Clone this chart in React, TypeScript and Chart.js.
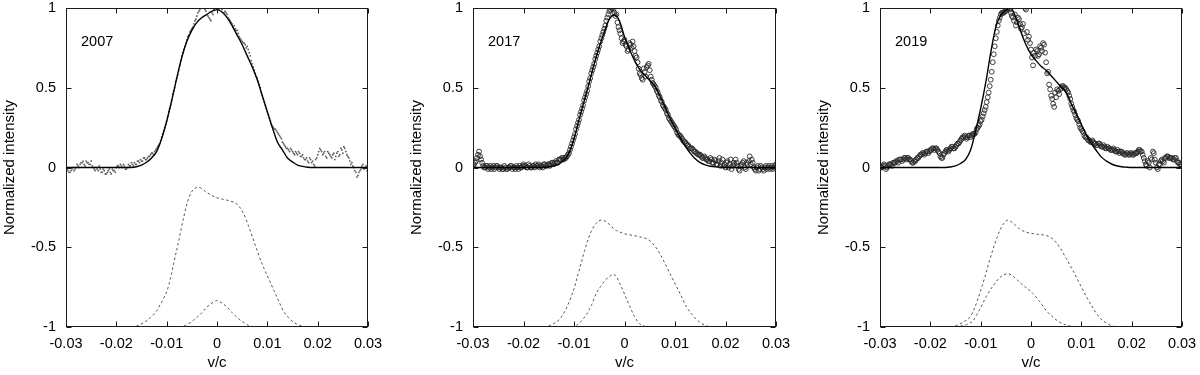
import React, { useEffect, useRef } from "react";
import { Chart, registerables } from "chart.js";

Chart.register(...registerables);

const FONT = "'Liberation Sans', Arial, Helvetica, sans-serif";

// ---- axes / labels ----
const X_TICKS = [-0.03, -0.02, -0.01, 0, 0.01, 0.02, 0.03];
const Y_TICKS = [-1, -0.5, 0, 0.5, 1];
const X_TITLE = "v/c";
const Y_TITLE = "Normalized intensity";
const YEARS = ["2007", "2017", "2019"];

// ---- observed profiles: grid A ----
const OBS_X = [
  -0.0300, -0.0296, -0.0292, -0.0288, -0.0284, -0.0280, -0.0276, -0.0272, -0.0268, -0.0264,
  -0.0260, -0.0256, -0.0252, -0.0248, -0.0244, -0.0240, -0.0236, -0.0232, -0.0228, -0.0224,
  -0.0220, -0.0216, -0.0212, -0.0208, -0.0204, -0.0200, -0.0196, -0.0192, -0.0188, -0.0184,
  -0.0180, -0.0176, -0.0172, -0.0168, -0.0164, -0.0160, -0.0156, -0.0152, -0.0148, -0.0144,
  -0.0140, -0.0136, -0.0132, -0.0128, -0.0124, -0.0120, -0.0116, -0.0112, -0.0108, -0.0104,
  -0.0100, -0.0096, -0.0092, -0.0088, -0.0084, -0.0080, -0.0076, -0.0072, -0.0068, -0.0064,
  -0.0060, -0.0056, -0.0052, -0.0048, -0.0044, -0.0040, -0.0036, -0.0032, -0.0028, -0.0024,
  -0.0020, -0.0016, -0.0012, -0.0008, -0.0004, 0.0000, 0.0004, 0.0008, 0.0012, 0.0016,
  0.0020, 0.0024, 0.0028, 0.0032, 0.0036, 0.0040, 0.0044, 0.0048, 0.0052, 0.0056,
  0.0060, 0.0064, 0.0068, 0.0072, 0.0076, 0.0080, 0.0084, 0.0088, 0.0092, 0.0096,
  0.0100, 0.0104, 0.0108, 0.0112, 0.0116, 0.0120, 0.0124, 0.0128, 0.0132, 0.0136,
  0.0140, 0.0144, 0.0148, 0.0152, 0.0156, 0.0160, 0.0164, 0.0168, 0.0172, 0.0176,
  0.0180, 0.0184, 0.0188, 0.0192, 0.0196, 0.0200, 0.0204, 0.0208, 0.0212, 0.0216,
  0.0220, 0.0224, 0.0228, 0.0232, 0.0236, 0.0240, 0.0244, 0.0248, 0.0252, 0.0256,
  0.0260, 0.0264, 0.0268, 0.0272, 0.0276, 0.0280, 0.0284, 0.0288, 0.0292, 0.0296,
  0.0300,
];

const OBS_2007 = [
  0.01, -0.02, -0.03, -0.01, -0.02, 0.00, 0.01, 0.02, 0.03, 0.02,
  0.04, 0.03, 0.02, 0.01, -0.01, 0.00, -0.02, -0.01, -0.03, -0.02,
  -0.04, -0.02, -0.03, -0.01, -0.02, 0.00, 0.01, 0.02, 0.00, 0.01,
  -0.01, 0.02, 0.01, 0.02, 0.03, 0.02, 0.04, 0.05, 0.04, 0.06,
  0.05, 0.07, 0.08, 0.09, 0.10, 0.12, 0.14, 0.17, 0.21, 0.25,
  0.29, 0.35, 0.39, 0.46, 0.50, 0.56, 0.61, 0.67, 0.72, 0.76,
  0.80, 0.83, 0.86, 0.88, 0.92, 0.95, 0.98, 1.00, 1.01, 0.99,
  1.00, 0.94, 0.92, 0.96, 1.00, 1.01, 0.99, 1.01, 1.00, 0.98,
  0.96, 0.93, 0.91, 0.88, 0.87, 0.86, 0.82, 0.80, 0.78, 0.77,
  0.76, 0.72, 0.67, 0.63, 0.59, 0.56, 0.52, 0.47, 0.43, 0.39,
  0.35, 0.31, 0.27, 0.25, 0.24, 0.22, 0.20, 0.18, 0.15, 0.13,
  0.12, 0.10, 0.11, 0.09, 0.10, 0.08, 0.09, 0.07, 0.06, 0.05,
  0.04, 0.06, 0.03, 0.02, 0.05, 0.08, 0.12, 0.10, 0.09, 0.07,
  0.10, 0.08, 0.06, 0.09, 0.07, 0.10, 0.08, 0.11, 0.13, 0.10,
  0.07, 0.04, 0.03, 0.00, -0.03, -0.05, -0.02, 0.01, -0.01, 0.01,
  0.00,
];

const OBS_2017 = [
  0.01, 0.03, 0.06, 0.10, 0.05, 0.01, 0.00, 0.01, 0.00, -0.01,
  0.01, 0.00, 0.01, -0.01, 0.00, -0.01, 0.00, -0.01, 0.00, 0.01,
  0.00, -0.01, 0.00, 0.01, 0.00, 0.02, 0.01, 0.00, 0.01, 0.00,
  0.01, 0.02, 0.01, 0.00, 0.01, 0.02, 0.01, 0.02, 0.01, 0.03,
  0.02, 0.04, 0.03, 0.05, 0.06, 0.05, 0.06, 0.08, 0.11, 0.15,
  0.19, 0.24, 0.28, 0.33, 0.37, 0.42, 0.46, 0.51, 0.56, 0.61,
  0.65, 0.70, 0.74, 0.79, 0.83, 0.87, 0.92, 0.96, 0.99, 1.00,
  0.97, 0.96, 0.88, 0.84, 0.78, 0.80, 0.76, 0.74, 0.77, 0.79,
  0.73, 0.69, 0.62, 0.58, 0.55, 0.60, 0.63, 0.65, 0.57, 0.53,
  0.51, 0.48, 0.45, 0.42, 0.39, 0.37, 0.34, 0.31, 0.29, 0.27,
  0.25, 0.22, 0.20, 0.19, 0.17, 0.16, 0.14, 0.13, 0.12, 0.11,
  0.10, 0.09, 0.08, 0.07, 0.06, 0.06, 0.05, 0.04, 0.05, 0.03,
  0.04, 0.02, 0.06, 0.03, 0.01, 0.00, 0.04, 0.02, -0.01, 0.03,
  0.05, 0.01, -0.02, 0.02, 0.04, -0.01, 0.02, 0.07, 0.05, 0.00,
  -0.02, 0.01, -0.01, 0.00, -0.02, 0.01, 0.00, -0.01, 0.01, 0.00,
  0.02,
];

const OBS_2019 = [
  0.01, 0.00, 0.02, -0.01, 0.01, 0.02, 0.01, 0.03, 0.04, 0.03,
  0.05, 0.04, 0.06, 0.05, 0.06, 0.05, 0.03, 0.04, 0.05, 0.06,
  0.08, 0.09, 0.08, 0.10, 0.09, 0.11, 0.12, 0.11, 0.12, 0.10,
  0.07, 0.06, 0.09, 0.11, 0.10, 0.12, 0.13, 0.12, 0.14, 0.15,
  0.17, 0.19, 0.20, 0.18, 0.20, 0.19, 0.21, 0.21, 0.24, 0.26,
  0.29, 0.32, 0.36, 0.41, 0.47, 0.55, 0.66, 0.76, 0.85, 0.92,
  0.96, 0.97, 0.98, 0.99, 1.00, 0.97, 0.94, 0.96, 0.91, 0.93,
  0.87, 0.90, 1.00, 0.85, 0.82, 0.74, 0.64, 0.70, 0.73, 0.71,
  0.75, 0.78, 0.72, 0.59, 0.52, 0.45, 0.40, 0.47, 0.49, 0.46,
  0.50, 0.51, 0.50, 0.48, 0.45, 0.40, 0.36, 0.33, 0.30, 0.27,
  0.24, 0.22, 0.19, 0.18, 0.17, 0.16, 0.16, 0.15, 0.14, 0.15,
  0.13, 0.14, 0.12, 0.13, 0.12, 0.11, 0.12, 0.10, 0.11, 0.09,
  0.10, 0.09, 0.08, 0.09, 0.08, 0.09, 0.08, 0.09, 0.10, 0.11,
  0.10, 0.06, 0.02, 0.04, 0.00, 0.05, 0.09, 0.03, -0.01, 0.02,
  0.05, 0.03, 0.06, 0.07, 0.06, 0.06, 0.05, 0.06, 0.03, 0.02,
  0.01,
];

// ---- observed profiles: grid B (interleaved samples) ----
const OBS_X_B = [
  -0.0298, -0.0294, -0.0290, -0.0286, -0.0282, -0.0278, -0.0274, -0.0270, -0.0266, -0.0262,
  -0.0258, -0.0254, -0.0250, -0.0246, -0.0242, -0.0238, -0.0234, -0.0230, -0.0226, -0.0222,
  -0.0218, -0.0214, -0.0210, -0.0206, -0.0202, -0.0198, -0.0194, -0.0190, -0.0186, -0.0182,
  -0.0178, -0.0174, -0.0170, -0.0166, -0.0162, -0.0158, -0.0154, -0.0150, -0.0146, -0.0142,
  -0.0138, -0.0134, -0.0130, -0.0126, -0.0122, -0.0118, -0.0114, -0.0110, -0.0106, -0.0102,
  -0.0098, -0.0094, -0.0090, -0.0086, -0.0082, -0.0078, -0.0074, -0.0070, -0.0066, -0.0062,
  -0.0058, -0.0054, -0.0050, -0.0046, -0.0042, -0.0038, -0.0034, -0.0030, -0.0026, -0.0022,
  -0.0018, -0.0014, -0.0010, -0.0006, -0.0002, 0.0002, 0.0006, 0.0010, 0.0014, 0.0018,
  0.0022, 0.0026, 0.0030, 0.0034, 0.0038, 0.0042, 0.0046, 0.0050, 0.0054, 0.0058,
  0.0062, 0.0066, 0.0070, 0.0074, 0.0078, 0.0082, 0.0086, 0.0090, 0.0094, 0.0098,
  0.0102, 0.0106, 0.0110, 0.0114, 0.0118, 0.0122, 0.0126, 0.0130, 0.0134, 0.0138,
  0.0142, 0.0146, 0.0150, 0.0154, 0.0158, 0.0162, 0.0166, 0.0170, 0.0174, 0.0178,
  0.0182, 0.0186, 0.0190, 0.0194, 0.0198, 0.0202, 0.0206, 0.0210, 0.0214, 0.0218,
  0.0222, 0.0226, 0.0230, 0.0234, 0.0238, 0.0242, 0.0246, 0.0250, 0.0254, 0.0258,
  0.0262, 0.0266, 0.0270, 0.0274, 0.0278, 0.0282, 0.0286, 0.0290, 0.0294, 0.0298,
];

const OBS_2007_B = [
  -0.01, -0.03, -0.02, 0.00, -0.01, 0.02, 0.00, 0.03, 0.04, 0.01,
  0.03, 0.02, 0.04, 0.00, -0.02, -0.01, 0.01, -0.03, -0.01, -0.04,
  -0.03, -0.01, -0.04, -0.02, -0.03, 0.01, 0.00, 0.01, 0.02, -0.01,
  0.00, 0.01, 0.03, 0.01, 0.02, 0.04, 0.03, 0.04, 0.06, 0.05,
  0.06, 0.07, 0.09, 0.08, 0.11, 0.13, 0.15, 0.19, 0.23, 0.27,
  0.32, 0.37, 0.42, 0.48, 0.54, 0.58, 0.64, 0.70, 0.74, 0.78,
  0.82, 0.85, 0.87, 0.90, 0.93, 0.97, 0.99, 1.01, 1.00, 0.98,
  0.95, 0.93, 0.97, 0.99, 1.00, 1.00, 1.01, 0.99, 0.97, 0.97,
  0.94, 0.92, 0.90, 0.89, 0.86, 0.84, 0.81, 0.79, 0.78, 0.75,
  0.74, 0.70, 0.65, 0.61, 0.57, 0.54, 0.50, 0.45, 0.41, 0.37,
  0.33, 0.29, 0.26, 0.24, 0.23, 0.21, 0.19, 0.16, 0.14, 0.12,
  0.11, 0.12, 0.10, 0.08, 0.09, 0.10, 0.07, 0.08, 0.05, 0.06,
  0.03, 0.05, 0.04, 0.01, 0.06, 0.10, 0.11, 0.08, 0.10, 0.06,
  0.09, 0.07, 0.08, 0.05, 0.09, 0.07, 0.12, 0.09, 0.12, 0.08,
  0.06, 0.02, 0.01, -0.02, -0.06, -0.03, -0.01, 0.02, 0.00, -0.02,
];

const OBS_2017_B = [
  0.02, 0.04, 0.08, 0.07, 0.03, 0.00, 0.01, -0.01, 0.01, 0.00,
  -0.01, 0.01, 0.00, 0.00, -0.01, 0.01, -0.01, 0.00, 0.01, -0.01,
  0.00, 0.01, -0.01, 0.00, 0.01, 0.01, 0.00, 0.02, 0.00, 0.01,
  0.00, 0.01, 0.02, 0.01, 0.00, 0.02, 0.01, 0.02, 0.02, 0.03,
  0.03, 0.03, 0.05, 0.05, 0.06, 0.06, 0.07, 0.09, 0.13, 0.17,
  0.21, 0.26, 0.30, 0.35, 0.39, 0.44, 0.48, 0.54, 0.59, 0.63,
  0.68, 0.72, 0.76, 0.81, 0.85, 0.89, 0.94, 0.98, 1.00, 0.99,
  0.95, 0.91, 0.86, 0.81, 0.79, 0.77, 0.73, 0.78, 0.75, 0.76,
  0.70, 0.66, 0.59, 0.56, 0.62, 0.57, 0.64, 0.61, 0.55, 0.52,
  0.50, 0.47, 0.44, 0.41, 0.38, 0.36, 0.33, 0.30, 0.28, 0.26,
  0.24, 0.21, 0.20, 0.18, 0.16, 0.15, 0.14, 0.12, 0.12, 0.10,
  0.09, 0.08, 0.08, 0.06, 0.07, 0.05, 0.04, 0.06, 0.03, 0.05,
  0.02, 0.04, 0.01, 0.05, 0.02, 0.03, 0.00, 0.05, 0.01, 0.02,
  0.03, -0.01, 0.01, 0.03, 0.00, 0.03, 0.04, 0.02, 0.03, -0.01,
  0.00, -0.02, 0.01, -0.01, 0.00, -0.01, 0.01, 0.00, -0.01, 0.01,
];

const OBS_2019_B = [
  0.00, 0.01, 0.01, 0.00, 0.02, 0.02, 0.03, 0.03, 0.04, 0.05,
  0.05, 0.05, 0.06, 0.06, 0.05, 0.04, 0.03, 0.04, 0.06, 0.07,
  0.08, 0.09, 0.09, 0.10, 0.10, 0.11, 0.12, 0.12, 0.11, 0.09,
  0.06, 0.08, 0.10, 0.11, 0.11, 0.13, 0.12, 0.13, 0.15, 0.16,
  0.18, 0.19, 0.19, 0.19, 0.20, 0.20, 0.21, 0.22, 0.25, 0.27,
  0.30, 0.34, 0.38, 0.44, 0.51, 0.60, 0.71, 0.81, 0.89, 0.94,
  0.97, 0.97, 0.98, 1.00, 0.99, 0.95, 0.92, 0.89, 0.94, 0.90,
  0.88, 0.84, 0.99, 0.80, 0.78, 0.69, 0.72, 0.74, 0.70, 0.76,
  0.73, 0.77, 0.66, 0.60, 0.49, 0.43, 0.38, 0.44, 0.48, 0.49,
  0.51, 0.50, 0.49, 0.47, 0.43, 0.38, 0.35, 0.31, 0.29, 0.25,
  0.23, 0.20, 0.19, 0.17, 0.16, 0.17, 0.15, 0.14, 0.15, 0.14,
  0.13, 0.13, 0.12, 0.12, 0.11, 0.11, 0.11, 0.10, 0.10, 0.10,
  0.09, 0.08, 0.09, 0.08, 0.09, 0.08, 0.09, 0.09, 0.11, 0.10,
  0.08, 0.04, 0.01, 0.03, 0.06, 0.10, 0.05, 0.00, 0.02, 0.04,
  0.04, 0.06, 0.07, 0.06, 0.06, 0.05, 0.06, 0.04, 0.03, 0.02,
];

// ---- model fits (solid) ----
const FIT_X = [
  -0.030, -0.029, -0.028, -0.027, -0.026, -0.025, -0.024, -0.023, -0.022, -0.021,
  -0.020, -0.019, -0.018, -0.017, -0.016, -0.015, -0.014, -0.013, -0.012, -0.011,
  -0.010, -0.009, -0.008, -0.007, -0.006, -0.005, -0.004, -0.003, -0.002, -0.001,
  0.000, 0.001, 0.002, 0.003, 0.004, 0.005, 0.006, 0.007, 0.008, 0.009,
  0.010, 0.011, 0.012, 0.013, 0.014, 0.015, 0.016, 0.017, 0.018, 0.019,
  0.020, 0.021, 0.022, 0.023, 0.024, 0.025, 0.026, 0.027, 0.028, 0.029,
  0.030,
];

const FIT_2007 = [
  0, 0, 0, 0, 0, 0, 0, 0, 0, 0,
  0, 0, 0, 0, 0.005, 0.015, 0.033, 0.06, 0.10, 0.18,
  0.29, 0.42, 0.56, 0.69, 0.79, 0.86, 0.91, 0.94, 0.96, 0.98,
  0.99, 0.975, 0.94, 0.89, 0.83, 0.77, 0.70, 0.63, 0.55, 0.45,
  0.35, 0.25, 0.16, 0.11, 0.06, 0.035, 0.015, 0.007, 0.002, 0,
  0, 0, 0, 0, 0, 0, 0, 0, 0, 0,
  0,
];

const FIT_2017 = [
  0, 0, 0, 0, 0, 0, 0, 0, 0, 0,
  0, 0, 0, 0, 0, 0.003, 0.01, 0.022, 0.045, 0.09,
  0.18, 0.30, 0.415, 0.53, 0.65, 0.755, 0.85, 0.93, 0.956, 0.92,
  0.82, 0.74, 0.67, 0.615, 0.58, 0.545, 0.51, 0.45, 0.38, 0.31,
  0.25, 0.19, 0.135, 0.09, 0.055, 0.03, 0.016, 0.008, 0.004, 0.002,
  0, 0, 0, 0, 0, 0, 0, 0, 0, 0,
  0,
];

const FIT_2019 = [
  0, 0, 0, 0, 0, 0, 0, 0, 0, 0,
  0, 0, 0, 0, 0.003, 0.01, 0.025, 0.05, 0.11, 0.23,
  0.37, 0.53, 0.72, 0.88, 0.955, 0.985, 1.0, 0.94, 0.85, 0.77,
  0.71, 0.67, 0.635, 0.61, 0.575, 0.54, 0.505, 0.47, 0.40, 0.335,
  0.27, 0.205, 0.15, 0.105, 0.065, 0.04, 0.022, 0.011, 0.005, 0.002,
  0, 0, 0, 0, 0, 0, 0, 0, 0, 0,
  0,
];

// ---- individual components (dashed, shifted by -1) ----
const BROAD_2007_X = [-0.0170, -0.0156, -0.0144, -0.0132, -0.0120, -0.0113, -0.0106, -0.0099, -0.0092, -0.0086, -0.0076, -0.0066, -0.0056, -0.0046, -0.0036, -0.0020, 0.0000, 0.0013, 0.0026, 0.0040, 0.0053, 0.0063, 0.0073, 0.0083, 0.0093, 0.0103, 0.0113, 0.0123, 0.0132, 0.0142, 0.0152, 0.0165, 0.0179, 0.0190];
const BROAD_2007_Y = [-1.0, -0.99, -0.97, -0.94, -0.90, -0.86, -0.82, -0.77, -0.69, -0.60, -0.46, -0.31, -0.19, -0.135, -0.125, -0.157, -0.19, -0.20, -0.21, -0.23, -0.29, -0.37, -0.46, -0.55, -0.63, -0.70, -0.77, -0.84, -0.90, -0.94, -0.97, -0.99, -1.0, -1.0];
const NARROW_2007_X = [-0.0075, -0.0063, -0.0050, -0.0040, -0.0030, -0.0020, -0.0010, 0.0000, 0.0010, 0.0020, 0.0030, 0.0040, 0.0050, 0.0063, 0.0075];
const NARROW_2007_Y = [-1.0, -0.99, -0.965, -0.94, -0.91, -0.875, -0.85, -0.835, -0.85, -0.875, -0.91, -0.94, -0.965, -0.99, -1.0];

const BROAD_2017_X = [-0.0160, -0.0148, -0.0138, -0.0128, -0.0118, -0.0108, -0.0100, -0.0092, -0.0085, -0.0079, -0.0072, -0.0065, -0.0056, -0.0046, -0.0036, -0.0026, -0.0016, -0.0005, 0.0006, 0.0017, 0.0030, 0.0044, 0.0057, 0.0070, 0.0083, 0.0097, 0.0110, 0.0123, 0.0136, 0.0149, 0.0160, 0.0172, 0.0185];
const BROAD_2017_Y = [-1.0, -0.99, -0.975, -0.95, -0.90, -0.83, -0.76, -0.67, -0.59, -0.52, -0.45, -0.395, -0.35, -0.33, -0.34, -0.37, -0.395, -0.41, -0.42, -0.426, -0.435, -0.447, -0.48, -0.54, -0.62, -0.71, -0.79, -0.875, -0.93, -0.97, -0.99, -1.0, -1.0];
const NARROW_2017_X = [-0.0105, -0.0095, -0.0085, -0.0075, -0.0065, -0.0056, -0.0047, -0.0039, -0.0030, -0.0022, -0.0015, -0.0009, 0.0001, 0.0011, 0.0020, 0.0030, 0.0040, 0.0050];
const NARROW_2017_Y = [-1.0, -0.99, -0.96, -0.92, -0.86, -0.79, -0.745, -0.71, -0.685, -0.67, -0.69, -0.73, -0.80, -0.875, -0.935, -0.98, -0.995, -1.0];

const BROAD_2019_X = [-0.0160, -0.0148, -0.0135, -0.0122, -0.0112, -0.0102, -0.0092, -0.0082, -0.0072, -0.0062, -0.0054, -0.0046, -0.0035, -0.0023, -0.0010, 0.0004, 0.0017, 0.0030, 0.0044, 0.0057, 0.0070, 0.0083, 0.0097, 0.0110, 0.0123, 0.0136, 0.0150, 0.0163, 0.0175];
const BROAD_2019_Y = [-1.0, -0.99, -0.97, -0.94, -0.88, -0.79, -0.69, -0.58, -0.48, -0.395, -0.35, -0.33, -0.35, -0.385, -0.405, -0.415, -0.42, -0.426, -0.45, -0.50, -0.57, -0.645, -0.73, -0.81, -0.88, -0.94, -0.975, -0.995, -1.0];
const NARROW_2019_X = [-0.0160, -0.0142, -0.0128, -0.0115, -0.0102, -0.0089, -0.0075, -0.0062, -0.0054, -0.0046, -0.0038, -0.0029, -0.0015, 0.0004, 0.0017, 0.0030, 0.0044, 0.0057, 0.0072, 0.0090];
const NARROW_2019_Y = [-1.0, -0.995, -0.985, -0.96, -0.89, -0.81, -0.74, -0.69, -0.672, -0.666, -0.675, -0.70, -0.74, -0.79, -0.84, -0.896, -0.94, -0.97, -0.99, -1.0];

const EPOCHS = [
  { year: YEARS[0], obs: OBS_2007, obsB: OBS_2007_B, fit: FIT_2007, bx: BROAD_2007_X, by: BROAD_2007_Y, nx: NARROW_2007_X, ny: NARROW_2007_Y, dots: true },
  { year: YEARS[1], obs: OBS_2017, obsB: OBS_2017_B, fit: FIT_2017, bx: BROAD_2017_X, by: BROAD_2017_Y, nx: NARROW_2017_X, ny: NARROW_2017_Y, dots: false },
  { year: YEARS[2], obs: OBS_2019, obsB: OBS_2019_B, fit: FIT_2019, bx: BROAD_2019_X, by: BROAD_2019_Y, nx: NARROW_2019_X, ny: NARROW_2019_Y, dots: false },
];

// layout (each canvas is 400 px wide)
const PANEL_W = 400;
const PANEL_H = 375;
const PAD = [
  { left: 0, right: 32 },
  { left: 7, right: 24 },
  { left: 14, right: 18 },
];

const zip = (xs: number[], ys: number[]) => xs.map((x, i) => ({ x, y: ys[i] }));
const fmt = (v: number) => String(Number(Number(v).toFixed(2)));

function makeFramePlugin(year: string) {
  return {
    id: "frame" + year,
    afterDatasetsDraw(chart: any) {
      const { ctx, chartArea: a, scales } = chart;
      const L = Math.round(a.left) + 0.5;
      const R = Math.round(a.right) - 0.5;
      const T = Math.round(a.top) + 0.5;
      const B = Math.round(a.bottom) - 0.5;
      ctx.save();
      ctx.strokeStyle = "#1a1a1a";
      ctx.lineWidth = 1;
      ctx.strokeRect(L, T, R - L, B - T);
      ctx.beginPath();
      const tl = 5;
      for (const v of X_TICKS) {
        const x = Math.round(scales.x.getPixelForValue(v)) + 0.5;
        ctx.moveTo(x, B);
        ctx.lineTo(x, B - tl);
        ctx.moveTo(x, T);
        ctx.lineTo(x, T + tl);
      }
      for (const v of Y_TICKS) {
        const y = Math.round(scales.y.getPixelForValue(v)) + 0.5;
        ctx.moveTo(L, y);
        ctx.lineTo(L + tl, y);
        ctx.moveTo(R, y);
        ctx.lineTo(R - tl, y);
      }
      ctx.stroke();
      ctx.fillStyle = "#000";
      ctx.font = `14.5px ${FONT}`;
      ctx.textAlign = "left";
      ctx.textBaseline = "middle";
      ctx.fillText(year, a.left + 15, a.top + 34);
      ctx.restore();
    },
  };
}

function buildChart(canvas: HTMLCanvasElement, idx: number) {
  const e = EPOCHS[idx];
  const pad = PAD[idx];
  const obsStyle = e.dots
    ? { showLine: false, pointRadius: 0.9, pointBackgroundColor: "#5a5a5a", pointBorderWidth: 0 }
    : { showLine: false, pointRadius: 2.4, pointBackgroundColor: "rgba(0,0,0,0)", pointBorderColor: "#2a2a2a", pointBorderWidth: 0.9 };
  const dashed = {
    showLine: true,
    borderColor: "#555",
    borderWidth: 1,
    borderDash: [2.5, 2.5],
    pointRadius: 0,
    cubicInterpolationMode: "monotone",
    fill: false,
  };
  const datasets: any[] = [
    {
      label: "fit",
      data: zip(FIT_X, e.fit),
      showLine: true,
      borderColor: "#000",
      borderWidth: 1.4,
      pointRadius: 0,
      cubicInterpolationMode: "monotone",
      fill: false,
    },
    { label: "broad", data: zip(e.bx, e.by), ...dashed },
    { label: "narrow", data: zip(e.nx, e.ny), ...dashed },
    { label: "obs", data: zip(OBS_X, e.obs), ...obsStyle },
    { label: "obsB", data: zip(OBS_X_B, e.obsB), ...obsStyle },
  ];

  const tickFont = { family: FONT, size: 14.5 };
  const titleFont = { family: FONT, size: 15 };

  return new Chart(canvas, {
    type: "scatter",
    data: { datasets },
    plugins: [makeFramePlugin(e.year)],
    options: {
      animation: false,
      responsive: false,
      events: [],
      layout: { padding: { left: pad.left, right: pad.right, top: 8, bottom: 0 } },
      plugins: { legend: { display: false }, tooltip: { enabled: false } },
      scales: {
        x: {
          type: "linear",
          min: -0.03,
          max: 0.03,
          afterBuildTicks: (s: any) => {
            s.ticks = X_TICKS.map((v) => ({ value: v }));
          },
          afterFit: (s: any) => {
            s.height = 48;
            s.paddingLeft = 0;
            s.paddingRight = 0;
          },
          grid: { display: false, drawTicks: false },
          border: { display: false },
          ticks: {
            padding: 8,
            color: "#000",
            font: tickFont,
            maxRotation: 0,
            autoSkip: false,
            callback: (v: any) => fmt(v),
          },
          title: {
            display: true,
            text: X_TITLE,
            color: "#000",
            font: titleFont,
            padding: { top: 0, bottom: 3 },
          },
        },
        y: {
          type: "linear",
          min: -1,
          max: 1,
          afterBuildTicks: (s: any) => {
            s.ticks = Y_TICKS.map((v) => ({ value: v }));
          },
          afterFit: (s: any) => {
            s.width = 66;
            s.paddingTop = 0;
            s.paddingBottom = 0;
          },
          grid: { display: false, drawTicks: false },
          border: { display: false },
          ticks: {
            padding: 10,
            color: "#000",
            font: tickFont,
            autoSkip: false,
            callback: (v: any) => fmt(v),
          },
          title: {
            display: true,
            text: Y_TITLE,
            color: "#000",
            font: titleFont,
            padding: { top: 1, bottom: 0 },
          },
        },
      },
    } as any,
  });
}

export default function App() {
  const r0 = useRef<HTMLCanvasElement>(null);
  const r1 = useRef<HTMLCanvasElement>(null);
  const r2 = useRef<HTMLCanvasElement>(null);

  useEffect(() => {
    const refs = [r0, r1, r2];
    const charts = refs.map((r, i) => buildChart(r.current as HTMLCanvasElement, i));
    return () => charts.forEach((c) => c.destroy());
  }, []);

  const refs = [r0, r1, r2];
  return (
    <div style={{ position: "absolute", left: 0, top: 0, width: 1200, height: 375, background: "#fff" }}>
      {refs.map((r, i) => (
        <canvas
          key={i}
          ref={r}
          width={PANEL_W}
          height={PANEL_H}
          style={{ position: "absolute", left: i * PANEL_W, top: 0, width: PANEL_W, height: PANEL_H, display: "block" }}
        />
      ))}
    </div>
  );
}
